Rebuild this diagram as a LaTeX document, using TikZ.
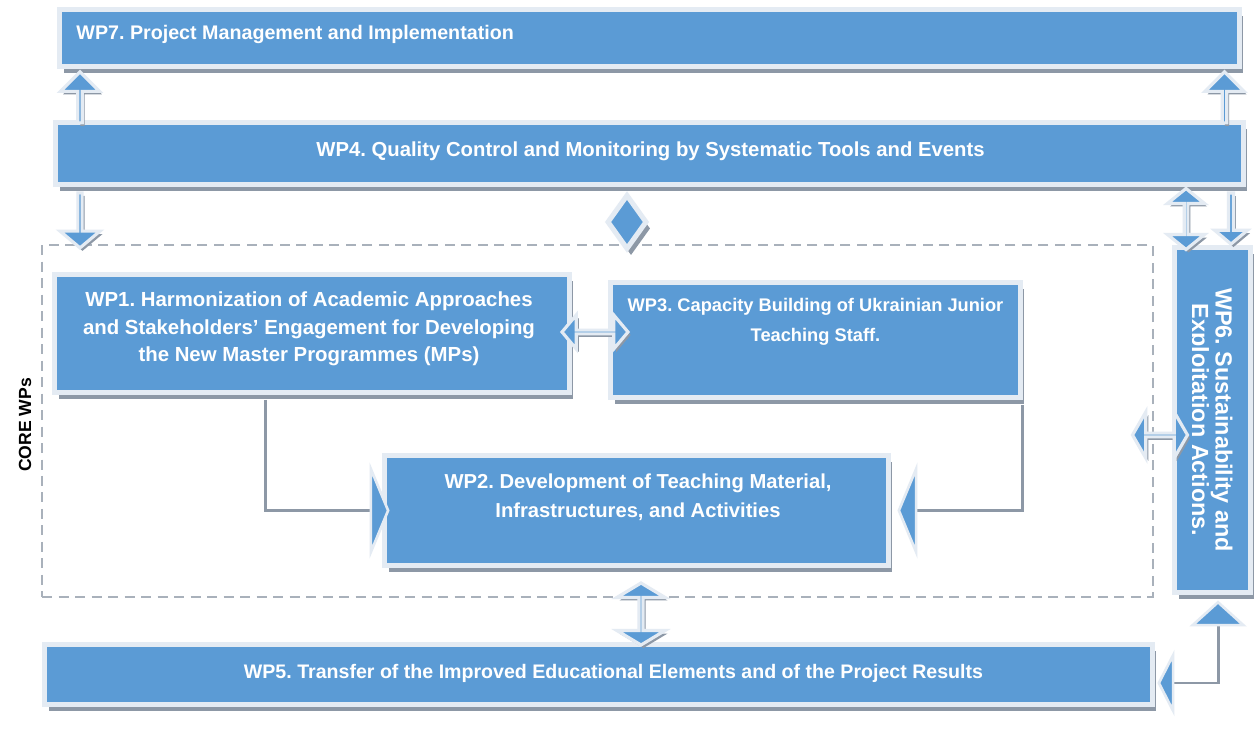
\documentclass[tikz,border=0pt]{standalone}
\usepackage{fontspec}
\setmainfont{Liberation Sans}
\usetikzlibrary{shapes.geometric,shapes.arrows,shadows,arrows.meta,calc}

\definecolor{wpblue}{HTML}{5B9BD5}
\definecolor{wpframe}{HTML}{E4EBF3}
\definecolor{wpshadow}{HTML}{8D98A6}
\definecolor{coredash}{HTML}{A9B1BB}

\tikzset{
  boxshadow/.style={drop shadow={shadow xshift=0.08cm, shadow yshift=-0.13cm, fill=wpshadow, opacity=1}},
  arrowshadow/.style={drop shadow={shadow xshift=0.05cm, shadow yshift=-0.06cm, fill=wpshadow, opacity=1}},
  wpbox/.style={rectangle, fill=wpblue, draw=wpframe, line width=2.85pt, inner sep=0pt, boxshadow},
  wptext/.style={text=white, font=\bfseries\fontsize{11.4}{15.6}\selectfont, align=center, inner sep=0pt},
  corebox/.style={rectangle, draw=coredash, line width=1.1pt, dash pattern=on 0.2cm off 0.13cm, inner sep=0pt},
  blockarrow/.style={single arrow, fill=wpblue, draw=wpframe, line width=1.8pt, inner sep=0pt,
    single arrow tip angle=90, arrowshadow},
  dblockarrow/.style={double arrow, fill=wpblue, draw=wpframe, line width=1.8pt, inner sep=0pt,
    double arrow tip angle=#1, arrowshadow},
  dblockarrow/.default=100,
  diamondbox/.style={diamond, fill=wpblue, draw=wpframe, line width=2.85pt, inner sep=0pt, boxshadow},
  conn/.style={draw=wpshadow, line width=1.7pt},
  bigtip/.style 2 args={-{Triangle[length=#1, width=#2, color=wpframe, fill=wpblue, line width=1.5pt]}}
}

\begin{document}
\frenchspacing
\begin{tikzpicture}[x=0.02cm, y=-0.02cm]
\fill[white] (0,0) rectangle (1254,729);
\useasboundingbox (0,0) rectangle (1254,729);

% group frame of the core work packages
\node[corebox, minimum width=22.22cm, minimum height=7.04cm] (core) at (597.5,421) {};
\node[rotate=90, font=\bfseries\fontsize{10}{12}\selectfont, inner sep=0pt] (core-label) at (25,425) {CORE WPs};

% work package boxes
\node[wpbox, minimum width=23.6cm,  minimum height=1.14cm] (wp7) at (649.5,38) {};
\node[wpbox, minimum width=23.76cm, minimum height=1.24cm] (wp4) at (649.5,153.5) {};
\node[wpbox, minimum width=10.3cm,  minimum height=2.36cm] (wp1) at (312,333.5) {};
\node[wpbox, minimum width=8.2cm,   minimum height=2.3cm]  (wp3) at (815.5,340) {};
\node[wpbox, minimum width=10.08cm, minimum height=2.2cm]  (wp2) at (636.5,510.5) {};
\node[wpbox, minimum width=22.16cm, minimum height=1.2cm]  (wp5) at (598.5,674.5) {};
\node[wpbox, minimum width=1.52cm,  minimum height=6.9cm]  (wp6) at (1212.5,420) {};

% box titles
\node[wptext, font=\bfseries\fontsize{11.2}{15.6}\selectfont, anchor=base west] (wp7-text) at ($(wp7.west)+(19,2)$) {WP7. Project Management and Implementation};
\node[wptext, font=\bfseries\fontsize{11.55}{15.6}\selectfont, anchor=base] (wp4-text) at ($(wp4.center)+(1,3.5)$) {WP4. Quality Control and Monitoring by Systematic Tools and Events};
\node[wptext, font=\bfseries\fontsize{11.6}{15.6}\selectfont] (wp1-text) at ($(wp1.center)+(-3,-4.5)$) {WP1. Harmonization of Academic Approaches\\and Stakeholders’ Engagement for Developing\\the New Master Programmes (MPs)};
\node[wptext, font=\bfseries\fontsize{10.4}{17}\selectfont] (wp3-text) at ($(wp3.center)+(0,-18)$) {WP3. Capacity Building of Ukrainian Junior\\Teaching Staff.};
\node[wptext, font=\bfseries\fontsize{11.5}{16.5}\selectfont] (wp2-text) at ($(wp2.center)+(1.5,-13)$) {WP2. Development of Teaching Material,\\Infrastructures, and Activities};
\node[wptext, font=\bfseries\fontsize{11.15}{15}\selectfont] (wp5-text) at ($(wp5.center)+(15,-1.5)$) {WP5. Transfer of the Improved Educational Elements and of the Project Results};
\begin{scope}
  % the title runs past the narrow box; its second line is cut at the baseline
  \clip (1192.5,250) rectangle (1248,590);
  \node[wptext, font=\bfseries\fontsize{13.3}{12}\selectfont, rotate=-90] (wp6-text) at (1210,420) {WP6. Sustainability and\\Exploitation Actions.};
\end{scope}

% block arrows between the layers
\node[blockarrow, rotate=90,  minimum height=1.02cm, minimum width=0.78cm, single arrow head extend=0.25cm] (wp4-wp7-l) at (80,98.5) {};
\node[blockarrow, rotate=90,  minimum height=1.02cm, minimum width=0.78cm, single arrow head extend=0.25cm] (wp4-wp7-r) at (1224.5,98.5) {};
\node[blockarrow, rotate=-90, minimum height=1.1cm,  minimum width=0.8cm, single arrow head extend=0.27cm, single arrow tip angle=100] (wp4-core) at (80,219.5) {};
\node[dblockarrow=102, rotate=90, minimum height=1.22cm, minimum width=0.74cm, double arrow head extend=0.29cm] (wp4-wp6-a) at (1186,219) {};
\node[blockarrow, rotate=-90, minimum height=1.02cm, minimum width=0.66cm, single arrow head extend=0.18cm, single arrow tip angle=100] (wp4-wp6-b) at (1231,217.5) {};
\node[diamondbox, minimum width=0.8cm, minimum height=1.1cm] (qc) at (627,222) {};
\node[dblockarrow=100, minimum height=1.32cm, minimum width=0.68cm, double arrow head extend=0.26cm] (wp1-wp3) at (595,332) {};
\node[dblockarrow=120, minimum height=1.1cm, minimum width=0.92cm, double arrow head extend=0.36cm] (core-wp6) at (1160,435) {};
\node[dblockarrow=118, rotate=90, minimum height=1.24cm, minimum width=0.96cm, double arrow head extend=0.34cm] (wp2-wp5) at (641,614) {};

% elbow connectors
\draw[conn, bigtip={0.4cm}{1.92cm}] ($(wp1.south west)+(213.5,5)$) |- ($(wp2.west)+(7.5,0)$);
\draw[conn, bigtip={0.4cm}{1.92cm}] ($(wp3.south east)+(-0.5,5)$) |- ($(wp2.east)+(6.5,0)$);
\draw[conn, {Triangle[length=0.34cm, width=1.32cm, color=wpframe, fill=wpblue, line width=1.5pt]}-{Triangle[length=0.52cm, width=1.14cm, color=wpframe, fill=wpblue, line width=1.5pt]}]
  ($(wp5.east)+(2.5,8.5)$) -| ($(wp6.south)+(5.5,5.5)$);
\end{tikzpicture}
\end{document}
